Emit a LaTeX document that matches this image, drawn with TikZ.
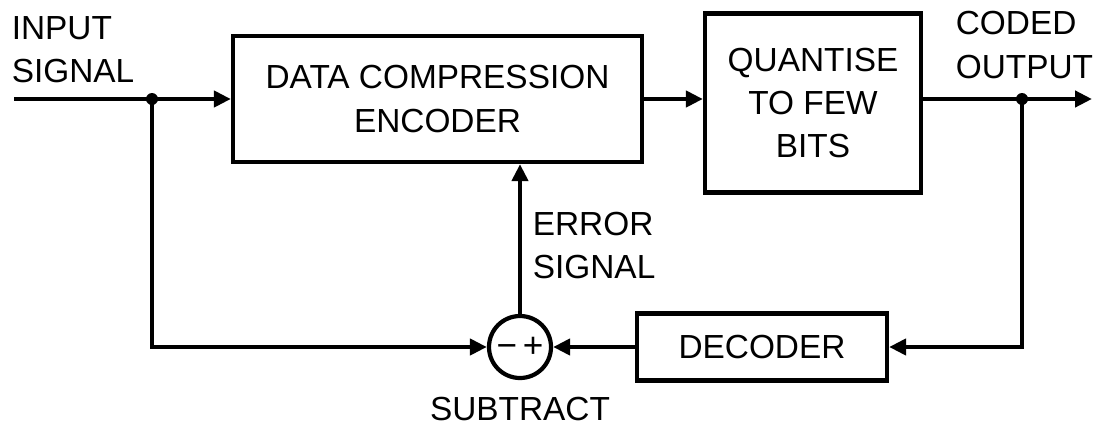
\documentclass[tikz,border=0pt]{standalone}
\usepackage{fontspec}
\setmainfont{Liberation Sans}
\usepackage{tikz}
\usetikzlibrary{arrows.meta, positioning, calc}

\begin{document}
\begin{tikzpicture}[
  font=\fontsize{19}{24.5}\selectfont,
  box/.style={rectangle, draw, line width=2.4pt, align=center, inner sep=0pt},
  arrow/.style={-{Triangle[length=0.34cm, width=0.32cm]}, line width=2.4pt},
  label/.style={align=left, inner sep=0pt}
]
\useasboundingbox (0,0) rectangle (21.96,-8.54);

\node[box, minimum width=8.18cm, minimum height=2.52cm] (ENC) at (8.75,-1.98) {DATA COMPRESSION\\ENCODER};
\node[box, minimum width=4.32cm, minimum height=3.58cm] (QB) at (16.26,-2.06) {QUANTISE\\TO FEW\\BITS};
\node[box, minimum width=5cm, minimum height=1.34cm] (DEC) at (15.24,-6.94) {DECODER};
\node[circle, draw, line width=2.4pt, minimum size=1.24cm, inner sep=0pt, font=\fontsize{20}{20}\selectfont] (SUB) at (10.4,-6.94) {−\,+};

\coordinate (IN) at (0.28,-1.98);
\coordinate (JIN) at (3.04,-1.98);
\coordinate (OUT) at (21.84,-1.98);
\coordinate (JOUT) at (20.44,-1.98);

\node[label] (INL) at (1.46,-1.0) {INPUT\\SIGNAL};
\node[label] (OUTL) at (20.49,-0.9) {CODED\\OUTPUT};
\node[label, right=0.25cm of SUB.north, anchor=west, yshift=1.36cm] (ERR) {ERROR\\SIGNAL};
\node[label, below=0.33cm of SUB] (SUBL) {SUBTRACT};

\draw[arrow] (IN) -- (ENC.west);
\draw[arrow] (ENC.east) -- (ENC.east -| QB.west);
\draw[arrow] (QB.east |- OUT) -- (OUT);
\draw[arrow] (JIN) |- (SUB.west);
\draw[arrow] (JOUT) |- (DEC.east);
\draw[arrow] (DEC.west) -- (SUB.east);
\draw[arrow] (SUB.north) -- (SUB.north |- ENC.south);

\fill (JIN) circle (0.12);
\fill (JOUT) circle (0.12);
\end{tikzpicture}
\end{document}
